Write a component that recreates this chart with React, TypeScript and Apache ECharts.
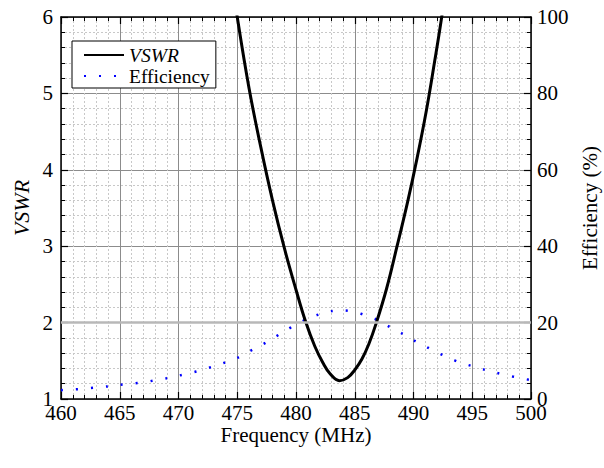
import React, { useEffect, useRef } from "react";
import * as echarts from "echarts";

// VSWR curve: frequency (MHz) and VSWR
const vswrFreq = [474.8, 475.0, 476.0, 477.0, 478.0, 479.0, 480.0, 480.8, 481.6, 482.3, 482.9, 483.7, 484.4, 485.0, 485.6, 486.2, 486.8, 487.7, 488.6, 489.5, 490.3, 491.1, 491.8, 492.4, 492.6];
const vswrValues = [6.25, 6.0, 5.07, 4.3, 3.6, 2.98, 2.43, 2.02, 1.69, 1.47, 1.33, 1.24, 1.28, 1.38, 1.52, 1.72, 1.98, 2.44, 3.0, 3.58, 4.15, 4.78, 5.42, 6.0, 6.25];

// Efficiency (%) per MHz
const effFreq = [460, 461, 462, 463, 464, 465, 466, 467, 468, 469, 470, 471, 472, 473, 474, 475, 476, 477, 478, 479, 480, 481, 482, 483, 484, 485, 486, 487, 488, 489, 490, 491, 492, 493, 494, 495, 496, 497, 498, 499, 500];
const effValues = [2.3, 2.5, 2.7, 3.0, 3.3, 3.7, 4.0, 4.35, 4.9, 5.45, 6.1, 6.8, 7.6, 8.6, 9.6, 10.75, 12.4, 14.0, 15.8, 17.7, 19.5, 21.0, 22.2, 23.0, 23.2, 22.8, 21.8, 20.6, 18.8, 17.2, 15.4, 13.8, 12.2, 10.8, 9.5, 8.6, 7.7, 6.9, 6.2, 5.5, 4.95];

const xTicks = { min: 460, max: 500, interval: 5 };
const vswrTicks = { min: 1, max: 6, interval: 1 };
const effTicks = { min: 0, max: 100, interval: 20 };
const vswrRef = 2;

const FONT = "'Liberation Serif', 'Times New Roman', 'DejaVu Serif', serif";

export default function App() {
  const ref = useRef<HTMLDivElement>(null);
  useEffect(() => {
    document.body.style.margin = "0";
    const chart = echarts.init(ref.current!, undefined, { renderer: "svg" });
    const axisLine = { show: true, onZero: false, lineStyle: { color: "#000", width: 1.5 } };
    const tick = { show: true, inside: true, length: 7, lineStyle: { color: "#000", width: 1.2 } };
    const minorTick = { show: true, splitNumber: 5, length: 4, lineStyle: { color: "#000", width: 1 } };
    const label = { color: "#000", fontFamily: FONT, fontSize: 21 };
    const splitLine = { show: true, lineStyle: { color: "#8c8c8c", width: 1 } };
    const minorSplitLine = { show: true, lineStyle: { color: "#c8c8c8", width: 1, type: [2, 2] } };
    chart.setOption({
      animation: false,
      textStyle: { fontFamily: FONT },
      grid: { left: 61, right: 73, top: 17, bottom: 69, containLabel: false, outerBoundsMode: "none" },
      legend: {
        left: 72,
        top: 41,
        orient: "vertical",
        backgroundColor: "#fff",
        borderColor: "#000",
        borderWidth: 1,
        borderRadius: 0,
        padding: [4, 6, 2, 11],
        itemGap: 1,
        itemWidth: 40,
        itemHeight: 14,
        itemStyle: { opacity: 0 },
        data: ["VSWR", "Efficiency"],
        formatter: (n: string) => (n === "VSWR" ? "{i|" + n + "}" : "{n|" + n + "}"),
        textStyle: {
          color: "#000",
          fontFamily: FONT,
          fontSize: 19.5,
          rich: {
            i: { fontFamily: FONT, fontSize: 19.5, fontStyle: "italic", color: "#000" },
            n: { fontFamily: FONT, fontSize: 19.5, color: "#000" },
          },
        },
      },
      xAxis: [
        {
          type: "value",
          position: "bottom",
          ...xTicks,
          name: "Frequency (MHz)",
          nameLocation: "middle",
          nameGap: 25,
          nameMoveOverlap: false,
          nameTextStyle: { color: "#000", fontFamily: FONT, fontSize: 21 },
          axisLine,
          axisTick: tick,
          minorTick,
          axisLabel: { ...label, margin: 3 },
          splitLine,
          minorSplitLine,
        },
        {
          type: "value",
          position: "top",
          ...xTicks,
          axisLine,
          axisTick: tick,
          minorTick,
          axisLabel: { show: false },
          splitLine: { show: false },
        },
      ],
      yAxis: [
        {
          type: "value",
          position: "left",
          ...vswrTicks,
          name: "VSWR",
          nameLocation: "middle",
          nameRotate: 90,
          nameGap: 29,
          nameMoveOverlap: false,
          nameTextStyle: { color: "#000", fontFamily: FONT, fontSize: 22, fontStyle: "italic" },
          axisLine,
          axisTick: tick,
          minorTick,
          axisLabel: { ...label, margin: 8 },
          splitLine,
          minorSplitLine,
        },
        {
          type: "value",
          position: "right",
          ...effTicks,
          name: "Efficiency (%)",
          nameLocation: "middle",
          nameRotate: 90,
          nameGap: 48,
          nameMoveOverlap: false,
          nameTextStyle: { color: "#000", fontFamily: FONT, fontSize: 21 },
          axisLine,
          axisTick: tick,
          minorTick,
          axisLabel: { ...label, margin: 6 },
          splitLine: { show: false },
        },
      ],
      series: [
        {
          name: "ref",
          type: "line",
          xAxisIndex: 0,
          yAxisIndex: 0,
          data: [],
          z: 1,
          silent: true,
          markLine: {
            silent: true,
            symbol: "none",
            label: { show: false },
            lineStyle: { color: "#b8b8b8", width: 2.5, type: "solid" },
            data: [{ yAxis: vswrRef }],
          },
        },
        {
          name: "Efficiency",
          type: "line",
          xAxisIndex: 0,
          yAxisIndex: 1,
          z: 2,
          showSymbol: false,
          symbol: "none",
          smooth: 0.3,
          lineStyle: { color: "#0000ff", width: 2.5, type: [2, 13] },
          itemStyle: { color: "#0000ff" },
          data: effFreq.map((f, i) => [f, effValues[i]]),
        },
        {
          name: "VSWR",
          type: "line",
          xAxisIndex: 0,
          yAxisIndex: 0,
          z: 3,
          showSymbol: false,
          symbol: "none",
          smooth: 0.4,
          clip: true,
          lineStyle: { color: "#000", width: 3 },
          itemStyle: { color: "#000" },
          data: vswrFreq.map((f, i) => [f, vswrValues[i]]),
        },
      ],
    });
    return () => chart.dispose();
  }, []);
  return <div ref={ref} style={{ width: 604, height: 468 }} />;
}
